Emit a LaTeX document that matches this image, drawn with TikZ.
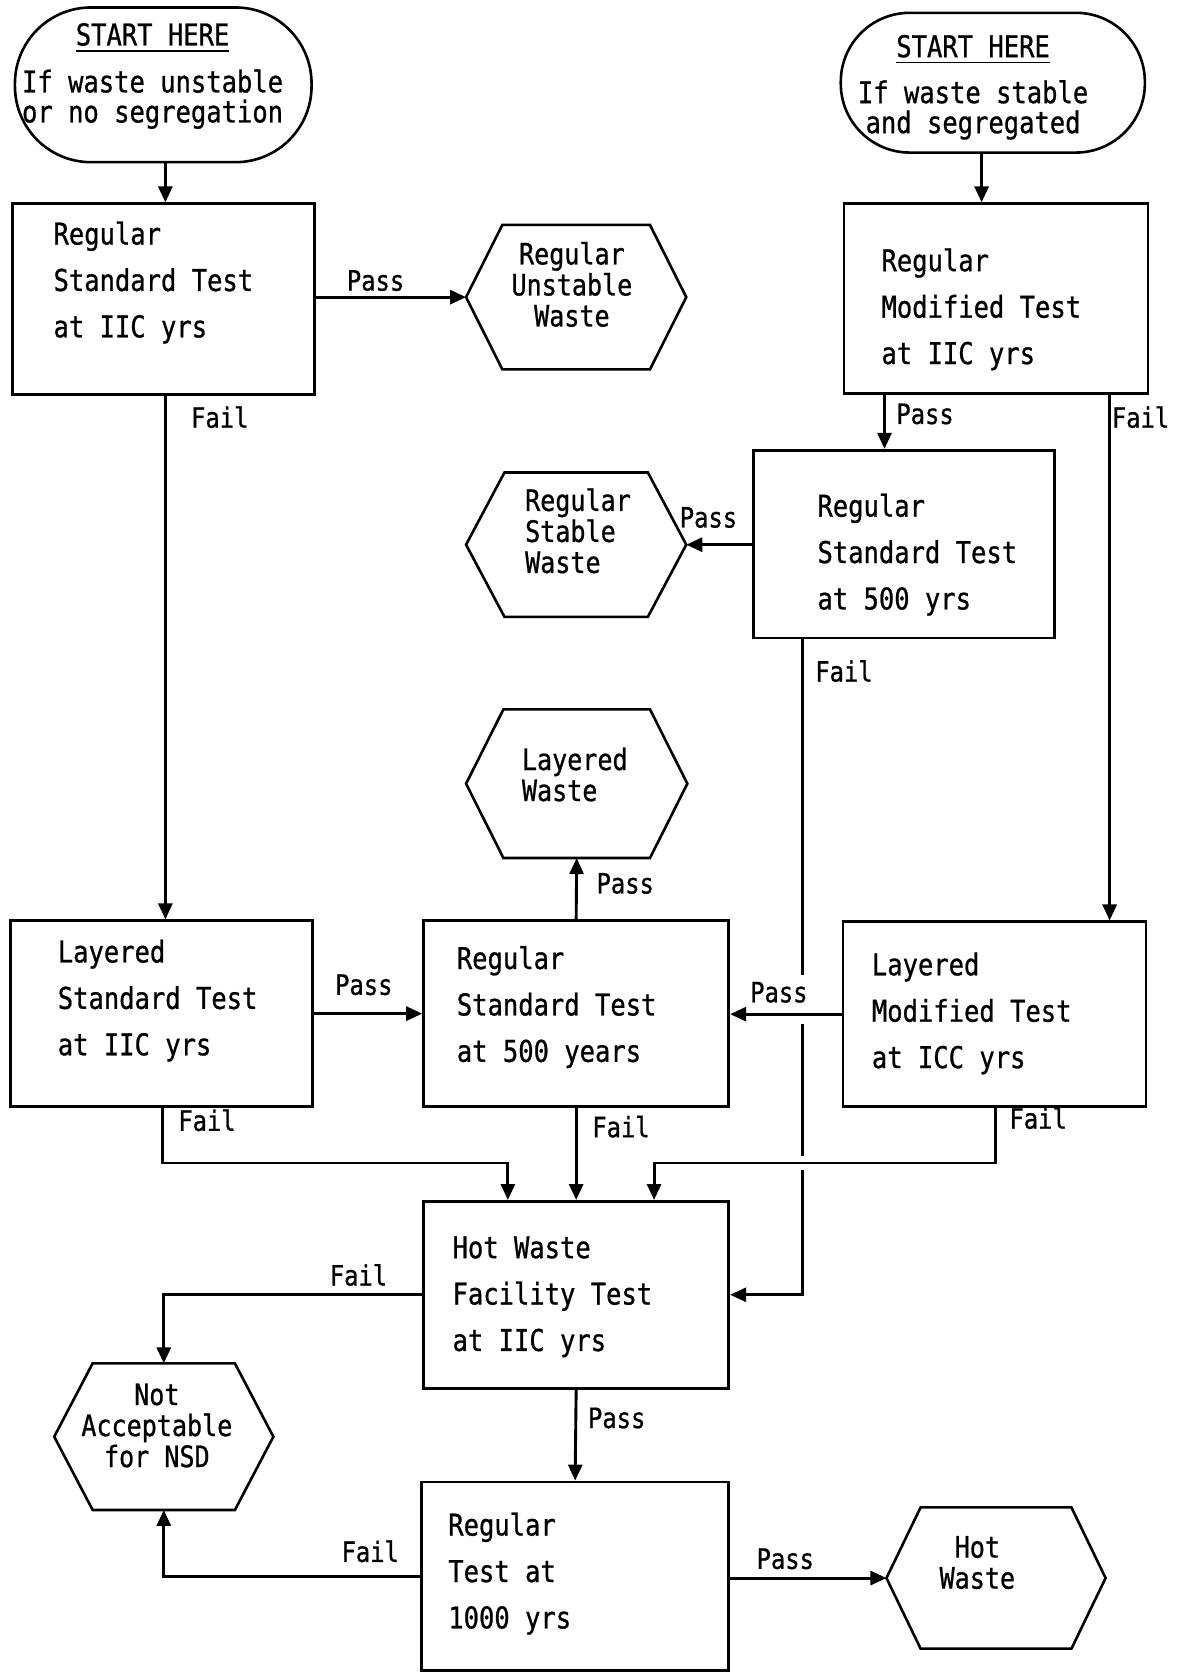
\documentclass[tikz,border=0pt]{standalone}
\usepackage{fontspec}
\newfontfamily\tw[FakeStretch=0.85,FakeBold=0.8]{DejaVu Sans Mono}
\usetikzlibrary{arrows.meta,fit,calc}
\newcommand\startul[1]{\vtop{\hbox{#1}\kern4pt\hrule height 1.8pt}}
\newcommand\hexdraw[2]{\draw[hexline] (#1.west) -- ($(#1.north west)+(#2,0)$) -- ($(#1.north east)+(-#2,0)$) -- (#1.east) -- ($(#1.south east)+(-#2,0)$) -- ($(#1.south west)+(#2,0)$) -- cycle;}
\tikzset{
  box/.style={draw, line width=2.8pt, inner sep=0pt},
  oval/.style={draw, line width=2.6pt, inner sep=0pt},
  hexfit/.style={inner sep=0pt},
  hexline/.style={line width=2.6pt, line join=miter},
  boxtxt/.style={font=\tw\fontsize{30pt}{46.4pt}\selectfont, align=left, inner sep=0pt, anchor=north west},
  hextxtc/.style={font=\tw\fontsize{29.5pt}{31pt}\selectfont, align=center, inner sep=0pt, anchor=north},
  hextxtl/.style={font=\tw\fontsize{29.5pt}{31pt}\selectfont, align=left, inner sep=0pt, anchor=north west},
  ovaltxt/.style={font=\tw\fontsize{30pt}{30pt}\selectfont, align=center, inner sep=0pt, anchor=north},
  lab/.style={font=\tw\fontsize{28pt}{28pt}\selectfont, inner sep=0pt},
  arr/.style={line width=2.9pt, -{Triangle[length=16pt,width=14pt]}},
}
\begin{document}
\begin{tikzpicture}[x=1.0669pt, y=-1.0669pt]
\fill[white] (0,0) rectangle (1106,1568);
\useasboundingbox (0,0) rectangle (1106,1568);

% start ovals
\node[oval, rounded corners=76pt, fit={(14,7) (292,152)}] (s1) {};
\node[oval, rounded corners=69pt, fit={(788,12) (1073,143)}] (s2) {};
\node[ovaltxt] (ts1) at (143,21.5) {\startul{START HERE}\\[17pt]If waste unstable\\or no segregation};
\node[ovaltxt] (ts2) at (912,32.5) {\startul{START HERE}\\[16pt]If waste stable\\and segregated};

% boxes
\node[box, fit={(12,191) (295,370)}] (b1) {};
\node[box, fit={(791,191) (1076,369)}] (b2) {};
\node[box, fit={(706,422) (988,598)}] (b3) {};
\node[box, fit={(10,863) (293,1037)}] (b4) {};
\node[box, fit={(397,863) (683,1037)}] (b5) {};
\node[box, fit={(790,864) (1074,1037)}] (b6) {};
\node[box, fit={(397,1126) (683,1301)}] (b7) {};
\node[box, fit={(395,1389) (683,1566)}] (b8) {};

\node[boxtxt] (tb1) at (50,207.5) {Regular\\Standard Test\\at IIC yrs};
\node[boxtxt] (tb2) at (826,232.5) {Regular\\Modified Test\\at IIC yrs};
\node[boxtxt] (tb3) at (766,462.5) {Regular\\Standard Test\\at 500 yrs};
\node[boxtxt] (tb4) at (54,880.5) {Layered\\Standard Test\\at IIC yrs};
\node[boxtxt] (tb5) at (428,886.5) {Regular\\Standard Test\\at 500 years};
\node[boxtxt] (tb6) at (817,892.5) {Layered\\Modified Test\\at ICC yrs};
\node[boxtxt] (tb7) at (424,1158.5) {Hot Waste\\Facility Test\\at IIC yrs};
\node[boxtxt] (tb8) at (420,1417.5) {Regular\\Test at\\1000 yrs};

% hexagons
\node[hexfit, fit={(437,211) (643,346)}] (h1) {};
\node[hexfit, fit={(437,443) (643,578)}] (h2) {};
\node[hexfit, fit={(437,665) (644,804)}] (h3) {};
\node[hexfit, fit={(51,1278) (256,1415)}] (h4) {};
\node[hexfit, fit={(831,1413) (1036,1545)}] (h5) {};
\hexdraw{h1}{34}
\hexdraw{h2}{36}
\hexdraw{h3}{35}
\hexdraw{h4}{36}
\hexdraw{h5}{32}
\node[hextxtc] (th1) at (536,226.5) {Regular\\Unstable\\Waste};
\node[hextxtl] (th2) at (492,457.5) {Regular\\Stable\\Waste};
\node[hextxtl] (th3) at (489,700.5) {Layered\\Waste};
\node[hextxtc] (th4) at (147,1296.5) {Not\\Acceptable\\for NSD};
\node[hextxtc] (th5) at (916,1439.5) {Hot\\Waste};

% helper coordinates
\coordinate (xa) at (920,0);
\coordinate (xb) at (829,0);
\coordinate (xc) at (1040,0);
\coordinate (xd) at (752,0);
\coordinate (xe) at (152,0);
\coordinate (xf) at (933,0);
\coordinate (xg) at (155,0);
\coordinate (jl) at (476,1090);
\coordinate (jr) at (613,1090);

% connectors
\draw[arr] (s1.south -| xg) -- (b1.north -| xg);
\draw[arr] (b1.east |- h1.west) -- (h1.west);
\draw[arr] (b1.south -| xg) -- (b4.north -| xg);
\draw[arr] (s2.south -| xa) -- (b2.north -| xa);
\draw[arr] (b2.south -| xb) -- (b3.north -| xb);
\draw[arr] (b2.south -| xc) -- (b6.north -| xc);
\draw[arr] (b3.west |- h2.east) -- (h2.east);
\draw[arr] (b3.south -| xd) |- (b7.east);
% gaps where the long Fail line passes under the crossing lines
\fill[white] (746,914) rectangle (758,960);
\fill[white] (746,1083) rectangle (758,1097);
\draw[arr] (b4.east) -- (b4.east -| b5.west);
\draw[arr] (b5.north) -- (h3.south);
\draw[arr] (b6.west) -- (b6.west -| b5.east);
\draw[arr] (b4.south -| xe) |- (jl) -- (b7.north -| jl);
\draw[arr] (b5.south) -- (b7.north);
\draw[arr] (b6.south -| xf) |- (jr) -- (b7.north -| jr);
\draw[arr] (b7.west) -| (h4.north);
\draw[arr] (b7.south) -- (b8.north);
\draw[arr] (b8.west) -| (h4.south);
\draw[arr] (b8.east |- h5.west) -- (h5.west);

% labels
\node[lab] (l1) at (352,263) {Pass};
\node[lab] (l2) at (206,391) {Fail};
\node[lab] (l3) at (867,388) {Pass};
\node[lab] (l4) at (1069,391) {Fail};
\node[lab] (l5) at (664,485) {Pass};
\node[lab] (l6) at (791,629) {Fail};
\node[lab] (l7) at (341,923) {Pass};
\node[lab] (l8) at (194,1050) {Fail};
\node[lab] (l9) at (586,828) {Pass};
\node[lab] (l10) at (582,1056) {Fail};
\node[lab] (l11) at (730,930) {Pass};
\node[lab] (l12) at (973,1048) {Fail};
\node[lab] (l13) at (336,1195) {Fail};
\node[lab] (l14) at (578,1329) {Pass};
\node[lab] (l15) at (347,1454) {Fail};
\node[lab] (l16) at (736,1461) {Pass};
\end{tikzpicture}
\end{document}
